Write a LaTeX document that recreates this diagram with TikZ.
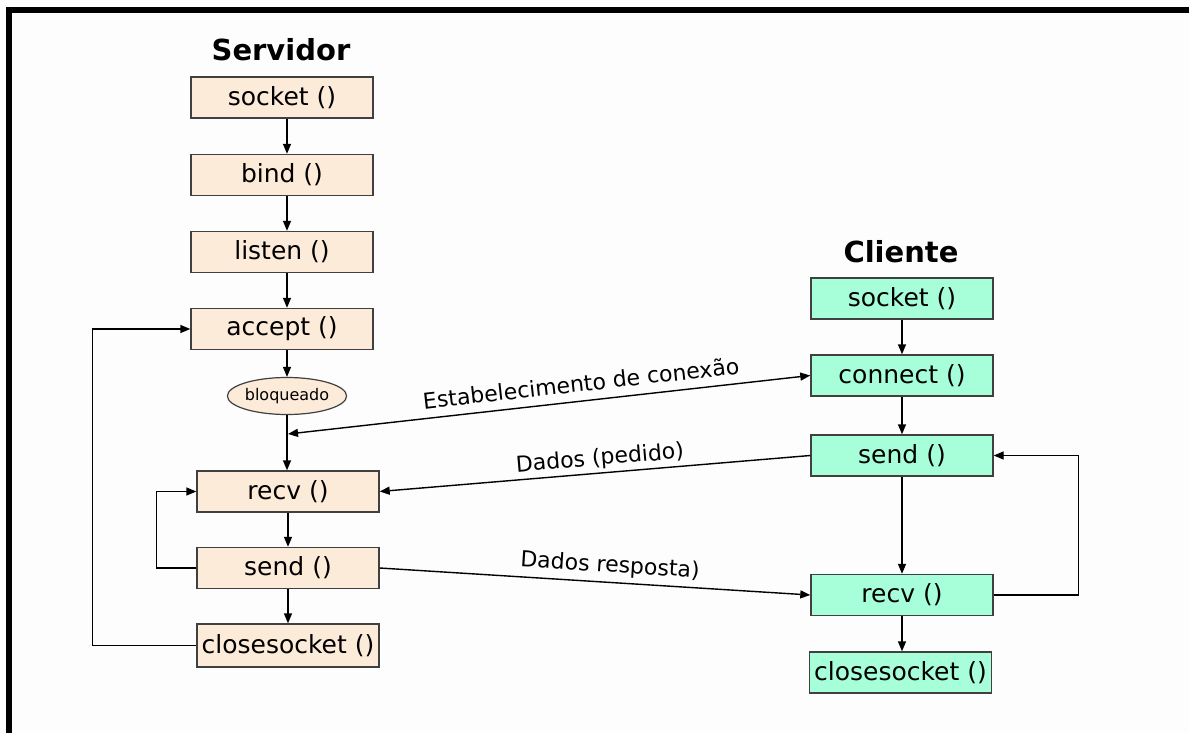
\documentclass[tikz,border=0pt]{standalone}
\usepackage{fontspec}
\setmainfont{DejaVu Sans}
\usetikzlibrary{arrows.meta,shapes.geometric}
\definecolor{srvfill}{RGB}{253,235,218}
\definecolor{clifill}{RGB}{166,255,217}
\definecolor{edge}{RGB}{64,64,64}
\definecolor{paper}{RGB}{253,253,253}
\tikzset{
  callbox/.style={draw=edge, line width=1.4pt, minimum width=182pt, minimum height=41pt,
    inner sep=0pt, font=\fontsize{25}{25}\selectfont},
  srv/.style={callbox, fill=srvfill},
  cli/.style={callbox, fill=clifill},
  title/.style={font=\fontsize{29}{29}\selectfont\bfseries},
  msg/.style={font=\fontsize{22}{22}\selectfont, inner sep=0pt},
  tip/.style={},
  arr/.style={line width=1.4pt, -{Triangle[length=10pt,width=8pt]}},
  dblarr/.style={line width=1.4pt, {Triangle[length=10pt,width=8pt]}-{Triangle[length=10pt,width=8pt]}},
}
\begin{document}
\begin{tikzpicture}[x=1pt,y=-1pt]
\useasboundingbox (0,0) rectangle (1189,733);
\fill[paper] (0,0) rectangle (1189,733);
% frame
\draw[line width=6pt, line join=miter] (9,733) -- (9,10) -- (1189,10);

% server column
\node[title] (tsrv) at (281,50) {Servidor};
\node[srv] (s1) at (282,97.5) {socket ()};
\node[srv] (s2) at (282,175) {bind ()};
\node[srv] (s3) at (282,252) {listen ()};
\node[srv] (s4) at (282,329) {accept ()};
\node[ellipse, draw=edge, line width=1.2pt, fill=srvfill, minimum width=116pt, minimum height=37pt,
      inner sep=0pt, font=\fontsize{16}{16}\selectfont] (el) at (287,396) {bloqueado};
\node[srv] (r) at (288,491.5) {recv ()};
\node[srv] (sd) at (288,568) {send ()};
\node[srv, minimum height=43pt] (sc) at (288,645.5) {closesocket ()};

\draw[arr] (s1.south -| el) -- (s2.north -| el);
\draw[arr] (s2.south -| el) -- (s3.north -| el);
\draw[arr] (s3.south -| el) -- (s4.north -| el);
\draw[arr] (s4.south -| el) -- (el.north);
\draw[arr] (el.south) -- (el.south |- r.north);
\draw[arr] (r.south) -- (sd.north);
\draw[arr] (sd.south) -- (sc.north);
\draw[arr] (sc.west) -- ++(-104,0) |- (s4.west);
\draw[arr] (sd.west) -- ++(-40,0) |- (r.west);

% client column
\node[title] (tcli) at (901,252) {Cliente};
\node[cli] (c1) at (902,298.5) {socket ()};
\node[cli] (c2) at (902,375.5) {connect ()};
\node[cli] (c3) at (902,455.5) {send ()};
\node[cli] (c4) at (902,595) {recv ()};
\node[cli] (c5) at (900.5,672.5) {closesocket ()};

\draw[arr] (c1.south) -- (c2.north);
\draw[arr] (c2.south) -- (c3.north);
\draw[arr] (c3.south) -- (c4.north);
\draw[arr] (c4.south) -- (c4.south |- c5.north);
\draw[arr] (c4.east) -- ++(85,0) |- (c3.east);

% messages between the two sides
\coordinate (wait) at (288,434);
\draw[dblarr] (wait) -- (c2.west);
\draw[arr] (c3.west) -- (r.east);
\draw[arr] (sd.east) -- (c4.west);
\node[msg, rotate=6.4] (m1) at (581,383) {Estabelecimento de conexão};
\node[msg, rotate=4.8] (m2) at (600,459) {Dados (pedido)};
\node[msg, rotate=-3.7] (m3) at (610,566) {Dados resposta)};
\end{tikzpicture}
\end{document}
